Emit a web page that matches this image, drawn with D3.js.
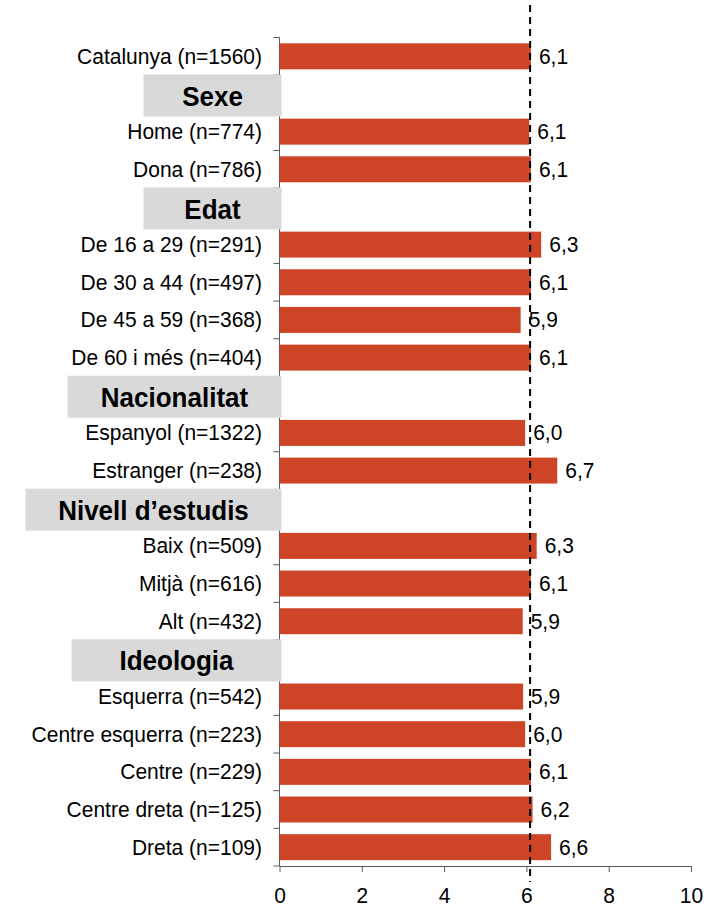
<!DOCTYPE html>
<html>
<head>
<meta charset="utf-8">
<script src="https://cdn.jsdelivr.net/npm/d3@7"></script>
<style>
  html, body { margin: 0; padding: 0; background: #fff; }
  svg { display: block; }
  text { font-family: "Liberation Sans", Arial, sans-serif; }
</style>
</head>
<body>
<svg id="chart" width="715" height="909"></svg>
<script>
// ---- Data ----
const categories = [
  "Catalunya (n=1560)",
  "Sexe",
  "Home (n=774)",
  "Dona (n=786)",
  "Edat",
  "De 16 a 29 (n=291)",
  "De 30 a 44 (n=497)",
  "De 45 a 59 (n=368)",
  "De 60 i més (n=404)",
  "Nacionalitat",
  "Espanyol (n=1322)",
  "Estranger (n=238)",
  "Nivell d’estudis",
  "Baix (n=509)",
  "Mitjà (n=616)",
  "Alt (n=432)",
  "Ideologia",
  "Esquerra (n=542)",
  "Centre esquerra (n=223)",
  "Centre (n=229)",
  "Centre dreta (n=125)",
  "Dreta (n=109)"
];
const headers = ["Sexe", "Edat", "Nacionalitat", "Nivell d’estudis", "Ideologia"];
const values = [6.11, null, 6.07, 6.11, null, 6.36, 6.11, 5.86, 6.11, null, 5.97, 6.75, null, 6.25, 6.11, 5.91, null, 5.92, 5.97, 6.11, 6.15, 6.60];
const valueLabels = ["6,1", null, "6,1", "6,1", null, "6,3", "6,1", "5,9", "6,1", null, "6,0", "6,7", null, "6,3", "6,1", "5,9", null, "5,9", "6,0", "6,1", "6,2", "6,6"];
const meanValue = 6.09;
const xTicks = [0, 2, 4, 6, 8, 10];

// ---- Layout / style ----
const headerBoxWidths = { "Sexe": 138, "Edat": 138, "Nacionalitat": 214, "Nivell d’estudis": 256, "Ideologia": 210 };
const barColor = "#CE4427";
const axisColor = "#5a5a5a";
const textStretch = 1.08;
const plotLeft = 279.5, plotRight = 691, plotTop = 37.5, plotBottom = 866;

const svg = d3.select("#chart");

const x = d3.scaleLinear().domain([0, 10]).range([plotLeft, plotRight]);
const y = d3.scaleBand().domain(categories).range([plotTop, plotBottom])
  .paddingInner(0.31).paddingOuter(0.155);

// helper: place text with slight vertical stretch around its anchor point
function place(sel, fx, fy) {
  sel.attr("x", 0).attr("y", 0)
    .attr("transform", (d, i) => `translate(${fx(d, i)},${fy(d, i)}) scale(1,${textStretch})`);
}

// y axis line and category tick marks (between categories)
const step = y.step();
const gY = svg.append("g");
gY.append("line")
  .attr("x1", plotLeft).attr("x2", plotLeft)
  .attr("y1", plotTop).attr("y2", plotBottom)
  .attr("stroke", axisColor).attr("stroke-width", 1);
gY.selectAll("line.tick")
  .data(d3.range(categories.length + 1))
  .join("line")
  .attr("class", "tick")
  .attr("x1", plotLeft - 6).attr("x2", plotLeft)
  .attr("y1", i => plotTop + i * step).attr("y2", i => plotTop + i * step)
  .attr("stroke", axisColor).attr("stroke-width", 1);

// x axis
const gX = svg.append("g")
  .attr("transform", `translate(0,${plotBottom})`)
  .call(d3.axisBottom(x).tickValues(xTicks).tickFormat(d3.format("d"))
    .tickSize(6).tickSizeOuter(0).tickPadding(16));
gX.select(".domain").attr("stroke", axisColor);
gX.selectAll(".tick line").attr("stroke", axisColor);
gX.selectAll(".tick text")
  .attr("fill", "#000")
  .attr("y", 0).attr("dy", null)
  .attr("transform", `translate(0,${6 + 16 + 21 * 0.71}) scale(1,${textStretch})`)
  .style("font-family", '"Liberation Sans", Arial, sans-serif')
  .style("font-size", "21px");

// bars
const rows = categories.map((c, i) => ({ cat: c, value: values[i], label: valueLabels[i] }));
const dataRows = rows.filter(r => r.value !== null);

svg.append("g").selectAll("rect")
  .data(dataRows)
  .join("rect")
  .attr("x", x(0))
  .attr("y", d => y(d.cat))
  .attr("width", d => x(d.value) - x(0))
  .attr("height", y.bandwidth())
  .attr("fill", barColor);

// category labels
svg.append("g").selectAll("text")
  .data(dataRows)
  .join("text")
  .call(place, () => 262, d => y(d.cat) + y.bandwidth() / 2 + 21 * 0.33 * textStretch)
  .attr("text-anchor", "end")
  .style("font-size", "21px")
  .attr("fill", "#000")
  .text(d => d.cat);

// header boxes
const hg = svg.append("g").selectAll("g")
  .data(headers)
  .join("g");
hg.append("rect")
  .attr("x", d => 281.5 - headerBoxWidths[d])
  .attr("y", d => y(d) + y.bandwidth() / 2 + 1.5 - 21)
  .attr("width", d => headerBoxWidths[d])
  .attr("height", 42)
  .attr("fill", "#D9D9D9");
hg.append("text")
  .call(place, d => 281.5 - headerBoxWidths[d] / 2,
        d => y(d) + y.bandwidth() / 2 + 1.5 + 26 * 0.358 * textStretch)
  .attr("text-anchor", "middle")
  .style("font-size", "26px")
  .style("font-weight", "bold")
  .attr("fill", "#000")
  .text(d => d);

// mean dashed line
svg.append("line")
  .attr("x1", x(meanValue)).attr("x2", x(meanValue))
  .attr("y1", 5).attr("y2", 882)
  .attr("stroke", "#000")
  .attr("stroke-width", 2)
  .attr("stroke-dasharray", "7,5");

// value labels
svg.append("g").selectAll("text")
  .data(dataRows)
  .join("text")
  .call(place, d => x(d.value) + 8, d => y(d.cat) + y.bandwidth() / 2 + 21 * 0.33 * textStretch)
  .style("font-size", "21px")
  .attr("fill", "#000")
  .text(d => d.label);
</script>
</body>
</html>
